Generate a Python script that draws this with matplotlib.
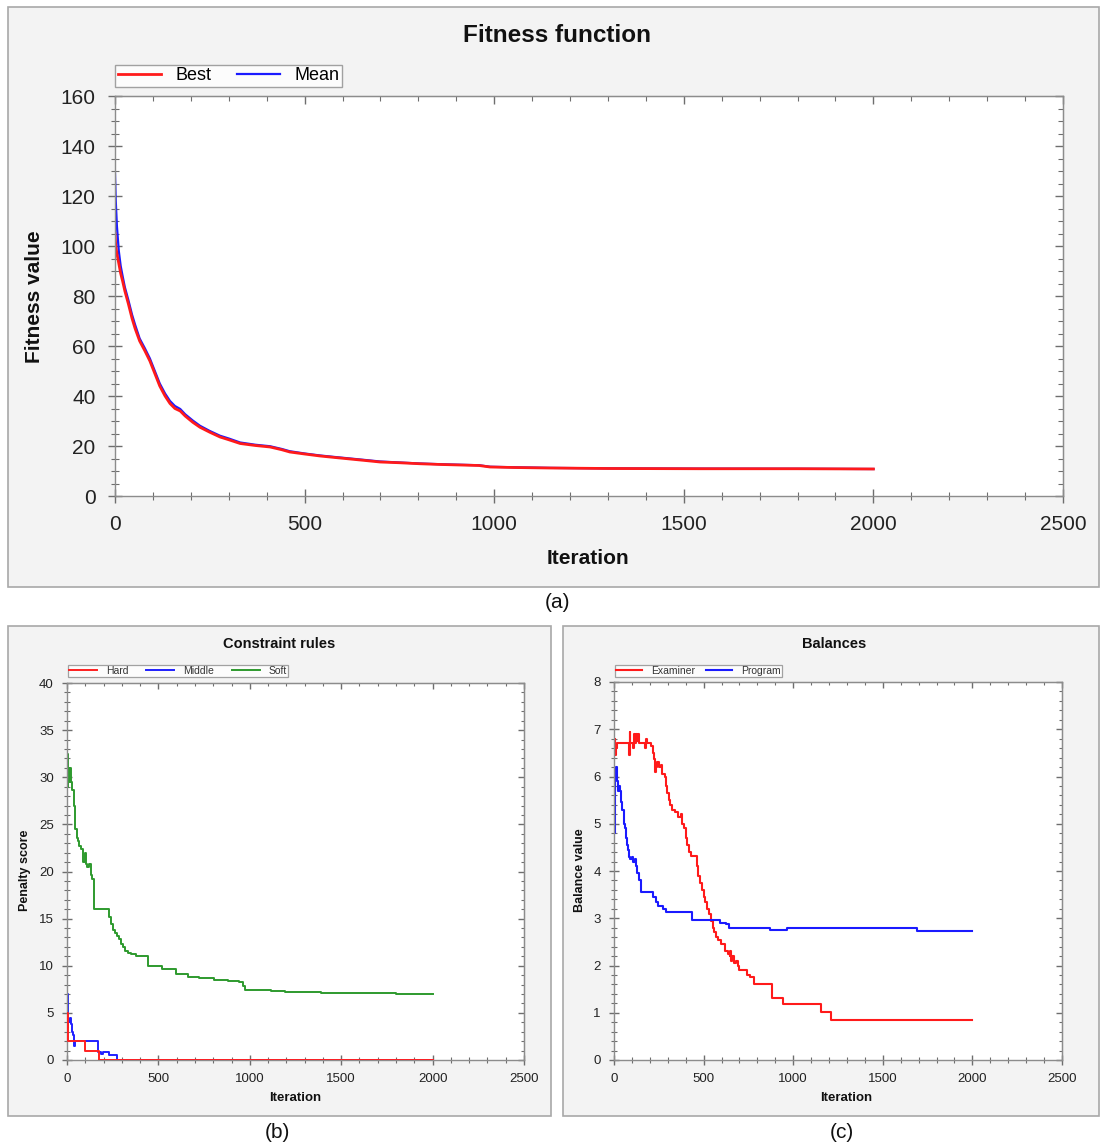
import matplotlib
matplotlib.use("Agg")
import matplotlib.pyplot as plt
from matplotlib.patches import Rectangle
from matplotlib.ticker import MultipleLocator

plt.rcParams['font.family'] = ['Liberation Sans', 'DejaVu Sans']

# === (a) Fitness function ===
fit_iter = [0, 2, 5, 10, 15, 20, 26, 35, 45, 53, 65, 79, 92, 105, 118, 132, 145, 158,
            172, 185, 205, 224, 250, 277, 300, 330, 370, 409, 440, 461, 500, 541, 580,
            620, 660, 699, 750, 804, 860, 910, 960, 989, 1050, 1147, 1300, 1543, 1800, 2000]
fit_best = [105, 100, 97, 93, 89, 86, 82, 77, 71, 67, 62, 58, 54, 49, 44, 40, 37, 35,
            34, 32, 29.5, 27.5, 25.5, 23.6, 22.5, 21, 20.2, 19.6, 18.5, 17.6, 16.8, 16.0, 15.4,
            14.8, 14.2, 13.6, 13.3, 12.9, 12.6, 12.4, 12.2, 11.6, 11.4, 11.2, 11.0, 10.9, 10.9, 10.8]
fit_mean = [129, 118, 108, 98, 92, 88, 83.5, 78.5, 72.5, 68.5, 63, 59, 55, 50, 45, 41, 38, 36,
            34.8, 32.7, 30.2, 28.1, 26.0, 24.1, 23.0, 21.4, 20.5, 19.9, 18.8, 17.9, 17.0, 16.2, 15.6,
            15.0, 14.4, 13.8, 13.4, 13.0, 12.7, 12.5, 12.3, 11.7, 11.5, 11.25, 11.05, 10.95, 10.9, 10.8]

# === (b) Constraint rules (step values) ===
hard_iter = [0, 3, 100, 175, 2000]
hard_val = [5, 2, 1, 0, 0]
middle_iter = [0, 3, 8, 14, 20, 26, 32, 38, 44, 172, 188, 195, 232, 272, 2000]
middle_val = [7.0, 3.5, 4.0, 4.5, 3.8, 3.0, 2.6, 1.5, 2.0, 0.9, 0.6, 0.9, 0.5, 0.0, 0.0]
soft_iter = [0, 2, 4, 8, 12, 16, 22, 28, 36, 44, 52, 60, 68, 78, 88, 96, 104, 112, 120, 130,
             138, 145, 228, 240, 250, 262, 272, 285, 295, 308, 320, 335, 350, 375, 443, 520,
             595, 660, 720, 805, 880, 940, 965, 975, 1117, 1195, 1390, 1586, 1800, 2000]
soft_val = [28.0, 32.5, 29.0, 31.0, 29.5, 31.0, 29.5, 28.6, 27.0, 24.5, 23.6, 23.2, 22.7, 22.4,
            21.0, 22.0, 20.8, 20.5, 20.8, 19.6, 19.2, 16.0, 15.2, 14.4, 13.8, 13.5, 13.2, 12.8,
            12.3, 12.0, 11.6, 11.4, 11.2, 11.0, 10.0, 9.7, 9.1, 8.8, 8.7, 8.5, 8.35, 8.25, 7.9,
            7.45, 7.3, 7.25, 7.15, 7.1, 7.05, 7.0]

# === (c) Balances (step values) ===
exam_iter = [0, 3, 6, 10, 16, 85, 88, 92, 105, 110, 116, 122, 128, 134, 140, 175, 180, 186,
             205, 215, 223, 228, 234, 240, 252, 262, 270, 282, 290, 298, 305, 315, 325, 340,
             355, 372, 380, 390, 400, 410, 420, 428, 462, 470, 480, 490, 500, 510, 520, 530,
             540, 550, 560, 570, 580, 598, 620, 635, 645, 650, 655, 660, 668, 680, 690, 700,
             740, 760, 780, 880, 945, 1157, 1210, 2000]
exam_val = [6.45, 6.8, 6.45, 6.6, 6.7, 6.45, 6.95, 6.7, 6.6, 6.9, 6.7, 6.9, 6.75, 6.9, 6.7,
            6.6, 6.8, 6.7, 6.64, 6.5, 6.36, 6.1, 6.2, 6.3, 6.2, 6.25, 6.05, 6.0, 5.8, 5.65,
            5.5, 5.4, 5.3, 5.25, 5.15, 5.2, 5.0, 4.9, 4.7, 4.55, 4.4, 4.32, 4.1, 3.9, 3.75,
            3.6, 3.45, 3.35, 3.2, 3.1, 2.95, 2.8, 2.7, 2.6, 2.55, 2.45, 2.3, 2.25, 2.2, 2.3,
            2.1, 2.2, 2.05, 2.1, 2.0, 1.9, 1.8, 1.75, 1.6, 1.32, 1.18, 1.02, 0.85, 0.85]
prog_iter = [0, 4, 8, 12, 17, 22, 27, 33, 40, 47, 54, 60, 66, 72, 78, 85, 92, 100, 108, 115,
             122, 130, 138, 148, 218, 232, 246, 274, 290, 435, 590, 625, 640, 868, 965, 1690, 2000]
prog_val = [4.8, 5.5, 6.0, 6.2, 5.9, 5.7, 5.8, 5.7, 5.45, 5.3, 5.0, 4.9, 4.7, 4.55, 4.45, 4.3,
            4.25, 4.3, 4.2, 4.25, 4.1, 3.95, 3.8, 3.55, 3.45, 3.35, 3.25, 3.2, 3.14, 2.97, 2.9,
            2.87, 2.8, 2.76, 2.8, 2.74, 2.74]

W, H = 1100, 1146
fig = plt.figure(figsize=(W / 100, H / 100), dpi=100)
fig.patch.set_facecolor('white')


def fbox(x0, y0, x1, y1):
    # pixel box (top-left origin) -> figure fraction [l, b, w, h]
    return [x0 / W, 1 - y1 / H, (x1 - x0) / W, (y1 - y0) / H]


def px(x, y):
    return x / W, 1 - y / H


# panel backgrounds
for b in [(8, 7, 1099, 587), (8, 626, 551, 1116), (563, 626, 1099, 1116)]:
    l, bt, w, h = fbox(*b)
    fig.patches.append(Rectangle((l, bt), w, h, transform=fig.transFigure,
                                 facecolor='#f3f3f3', edgecolor='#a8a8a8', lw=1.2, zorder=-5))


def style_axes(ax, fs, major_len, minor_len, pad, xmaj, xmin, ymaj, ymin):
    for s in ax.spines.values():
        s.set_color('#8c8c8c')
        s.set_linewidth(1.0)
    ax.xaxis.set_major_locator(MultipleLocator(xmaj))
    ax.xaxis.set_minor_locator(MultipleLocator(xmin))
    ax.yaxis.set_major_locator(MultipleLocator(ymaj))
    ax.yaxis.set_minor_locator(MultipleLocator(ymin))
    ax.tick_params(which='both', direction='inout', top=False, right=False,
                   colors='#6e6e6e', labelcolor='#222222', labelsize=fs, pad=pad)
    ax.tick_params(which='major', length=major_len, width=1.0)
    ax.tick_params(which='minor', length=minor_len, width=0.8)
    ax.set_facecolor('white')
    ax.set_zorder(2)
    # top / right ticks point inward only
    top = ax.secondary_xaxis('top')
    top.xaxis.set_major_locator(MultipleLocator(xmaj))
    top.xaxis.set_minor_locator(MultipleLocator(xmin))
    right = ax.secondary_yaxis('right')
    right.yaxis.set_major_locator(MultipleLocator(ymaj))
    right.yaxis.set_minor_locator(MultipleLocator(ymin))
    for sec in (top, right):
        sec.tick_params(which='both', direction='in', colors='#6e6e6e',
                        labeltop=False, labelright=False)
        sec.tick_params(which='major', length=major_len * 0.6, width=1.0)
        sec.tick_params(which='minor', length=minor_len * 0.6, width=0.8)
        for s in sec.spines.values():
            s.set_color('#8c8c8c')


# === (a) ===
ax1 = fig.add_axes(fbox(115, 96, 1063, 496))
ax1.plot(fit_iter, fit_mean, color='#1a1aff', lw=1.6, label='Mean')
ax1.plot(fit_iter, fit_best, color='#ff1a1a', lw=2.0, label='Best')
ax1.set_xlim(0, 2500)
ax1.set_ylim(0, 160)
style_axes(ax1, 15, 10, 6, 9, 500, 100, 20, 5)
h, l = ax1.get_legend_handles_labels()
leg = ax1.legend([h[1], h[0]], [l[1], l[0]], loc='lower left', bbox_to_anchor=px(115, 87),
                 bbox_transform=fig.transFigure,
                 ncol=2, fontsize=13, frameon=True, fancybox=False, handlelength=2.4,
                 borderpad=0.15, columnspacing=1.4, handletextpad=0.8, borderaxespad=0)
leg.get_frame().set_edgecolor('#8c8c8c')
leg.get_frame().set_linewidth(1.0)
fig.text(*px(557, 35), 'Fitness function', ha='center', va='center', fontsize=17.5,
         fontweight='bold', color='#111111')
fig.text(*px(35, 297), 'Fitness value', ha='center', va='center', rotation=90,
         fontsize=15, fontweight='bold', color='#111111')
fig.text(*px(588, 558), 'Iteration', ha='center', va='center', fontsize=15,
         fontweight='bold', color='#111111')
fig.text(*px(558, 602), '(a)', ha='center', va='center', fontsize=15, color='#111111')

# === (b) ===
ax2 = fig.add_axes(fbox(67, 683, 524, 1060))
ax2.plot(middle_iter, middle_val, color='#2020ff', lw=1.4, drawstyle='steps-post', label='Middle')
ax2.plot(hard_iter, hard_val, color='#ff2020', lw=1.4, drawstyle='steps-post', label='Hard', zorder=3)
ax2.plot(soft_iter, soft_val, color='#2e9a2e', lw=1.4, drawstyle='steps-post', label='Soft')
ax2.set_xlim(0, 2500)
ax2.set_ylim(0, 40)
style_axes(ax2, 9.5, 7, 4, 6, 500, 100, 5, 1)
h, l = ax2.get_legend_handles_labels()
order = [1, 0, 2]
leg = ax2.legend([h[i] for i in order], [l[i] for i in order], loc='lower left',
                 bbox_to_anchor=px(68, 677), bbox_transform=fig.transFigure,
                 ncol=3, fontsize=7.5, frameon=True, fancybox=False, handlelength=2.7,
                 borderpad=0.1, columnspacing=1.7, handletextpad=0.85, borderaxespad=0,
                 labelcolor='#333333')
leg.get_frame().set_edgecolor('#8c8c8c')
leg.get_frame().set_linewidth(0.9)
fig.text(*px(279, 644), 'Constraint rules', ha='center', va='center', fontsize=10.5,
         fontweight='bold', color='#111111')
fig.text(*px(25, 870), 'Penalty score', ha='center', va='center', rotation=90,
         fontsize=9, fontweight='bold', color='#111111')
fig.text(*px(295, 1098), 'Iteration', ha='center', va='center', fontsize=9.5,
         fontweight='bold', color='#111111')
fig.text(*px(277, 1132), '(b)', ha='center', va='center', fontsize=15, color='#111111')

# === (c) ===
ax3 = fig.add_axes(fbox(614, 682, 1062, 1060))
ax3.plot(exam_iter, exam_val, color='#ff1a1a', lw=1.5, drawstyle='steps-post', label='Examiner')
ax3.plot(prog_iter, prog_val, color='#1a1aff', lw=1.5, drawstyle='steps-post', label='Program')
ax3.set_xlim(0, 2500)
ax3.set_ylim(0, 8)
style_axes(ax3, 9.5, 7, 4, 6, 500, 100, 1, 0.2)
leg = ax3.legend(loc='lower left', bbox_to_anchor=px(615, 677), bbox_transform=fig.transFigure,
                 ncol=2, fontsize=7.5, frameon=True, fancybox=False, handlelength=2.5,
                 borderpad=0.1, columnspacing=1.1, handletextpad=0.85, borderaxespad=0,
                 labelcolor='#333333')
leg.get_frame().set_edgecolor('#8c8c8c')
leg.get_frame().set_linewidth(0.9)
fig.text(*px(834, 644), 'Balances', ha='center', va='center', fontsize=10.5,
         fontweight='bold', color='#111111')
fig.text(*px(580, 870), 'Balance value', ha='center', va='center', rotation=90,
         fontsize=9, fontweight='bold', color='#111111')
fig.text(*px(846, 1098), 'Iteration', ha='center', va='center', fontsize=9.5,
         fontweight='bold', color='#111111')
fig.text(*px(842, 1132), '(c)', ha='center', va='center', fontsize=15, color='#111111')

fig.savefig('out.png', dpi=100)
